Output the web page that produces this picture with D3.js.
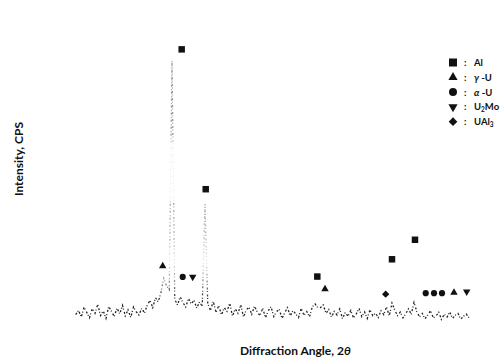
<!DOCTYPE html>
<html>
<head>
<meta charset="utf-8">
<script src="https://cdn.jsdelivr.net/npm/d3@7"></script>
<style>
  body { margin: 0; background: #fff; }
  svg { display: block; }
  .label { font-family: Lato, "Open Sans", sans-serif; font-weight: bold; font-size: 12px; fill: #111; }
  .legend text { font-family: Lato, "Open Sans", sans-serif; font-weight: bold; font-size: 9.5px; fill: #111; }
</style>
</head>
<body>
<svg id="chart" width="502" height="363"></svg>
<script>
// scan: 2-theta grid start/step, counts
const scanStart = 16.5;
const scanStep = 0.5;
const cps = [
  48, 62, 40, 71, 55, 38, 66, 52, 80, 45, 60, 36, 74, 58, 42, 69, 50, 77, 44, 63, 39, 72, 57, 47, 68, 53,
  78, 92, 70, 101, 88,
  118, 162, 138, 126,
  841,
  96, 78, 104, 85, 72, 99, 81, 93, 68, 88, 74,
  394,
  82, 61, 90, 55, 76, 47, 70, 58, 84, 43, 66, 52, 79, 40, 63, 71, 49, 75, 56, 45,
  68, 38, 60, 73, 42, 57, 65, 36, 54, 70, 44, 61, 50, 39, 67, 46, 58, 41, 72,
  82, 70,
  70, 78, 52, 64, 40, 58, 47, 66, 35, 55, 43, 61, 38, 50, 68, 42, 57, 36, 63, 45, 53, 39, 60, 48, 72, 44,
  84,
  62, 45, 56, 38, 51, 66, 49,
  86,
  58, 41, 52, 35, 47, 60, 38, 44, 55, 33, 49, 40, 57, 36, 46, 52, 34, 43, 50, 38
];

// phase markers
const phases = ['Al', 'gU', 'aU', 'U2Mo', 'UAl3'];
const markerPhase = ['Al', 'Al', 'Al', 'Al', 'Al',
  'gU', 'gU', 'gU',
  'aU', 'aU', 'aU', 'aU',
  'U2Mo', 'U2Mo',
  'UAl3'];
const markerAngle = [35.76, 40.13, 60.42, 74.0, 78.18,
  32.31, 61.82, 85.27,
  35.95, 80.13, 81.64, 83.09,
  37.76, 87.58,
  72.85];
const markerCps = [877, 440, 167, 221, 282,
  200, 128, 117,
  166, 115, 115, 115,
  166, 120,
  112];

const svg = d3.select('#chart');
const x = d3.scaleLinear().domain([10, 90]).range([40, 480]);
const y = d3.scaleLinear().domain([0, 1000]).range([330, 10]);

const shapes = {
  Al: {type: d3.symbolSquare, size: 42, big: 64, rot: 0},
  gU: {type: d3.symbolTriangle, size: 24, big: 36, rot: 0},
  aU: {type: d3.symbolCircle, size: 30, big: 50, rot: 0},
  U2Mo: {type: d3.symbolTriangle, size: 24, big: 36, rot: 180},
  UAl3: {type: d3.symbolDiamond2, size: 34, big: 48, rot: 0}
};

// faded scan: ink is light on the tall peak flanks, dark on the baseline
const grad = svg.append('defs').append('linearGradient')
  .attr('id', 'ink')
  .attr('gradientUnits', 'userSpaceOnUse')
  .attr('x1', 0).attr('x2', 0)
  .attr('y1', 0).attr('y2', 363);
[[0, '#999'], [0.37, '#999'], [0.4, '#f2f2f2'], [0.55, '#f2f2f2'], [0.56, '#aaa'], [0.66, '#bbb'],
 [0.72, '#eee'], [0.78, '#888'], [0.83, '#222'], [1, '#222']]
  .forEach(s => grad.append('stop').attr('offset', s[0]).attr('stop-color', s[1]));

const line = d3.line()
  .x((d, i) => x(scanStart + i * scanStep))
  .y(d => y(d));

svg.append('path')
  .datum(cps)
  .attr('d', line)
  .attr('fill', 'none')
  .attr('stroke', 'url(#ink)')
  .attr('stroke-width', 1.3)
  .attr('stroke-dasharray', '2,1.6,1,2.4');

// markers
svg.append('g').selectAll('path')
  .data(markerAngle)
  .enter().append('path')
  .attr('transform', (d, i) => {
    const s = shapes[markerPhase[i]];
    return 'translate(' + x(d) + ',' + y(markerCps[i]) + ') rotate(' + s.rot + ')';
  })
  .attr('d', (d, i) => d3.symbol().type(shapes[markerPhase[i]].type).size(shapes[markerPhase[i]].size)())
  .attr('fill', '#111');

// legend
const legend = svg.append('g').attr('class', 'legend');
const rows = legend.selectAll('g')
  .data(phases)
  .enter().append('g')
  .attr('transform', (d, i) => 'translate(453,' + (62.5 + i * 14.8) + ')');

rows.append('path')
  .attr('transform', d => 'rotate(' + shapes[d].rot + ')')
  .attr('d', d => d3.symbol().type(shapes[d].type).size(shapes[d].big)())
  .attr('fill', '#111');

rows.append('text')
  .attr('x', 11)
  .attr('y', 3.5)
  .text(':');

const lbl = rows.append('text')
  .attr('x', 21)
  .attr('y', 3.5);

lbl.each(function(d) {
  const t = d3.select(this);
  if (d === 'Al') t.text('Al');
  if (d === 'gU') { t.append('tspan').attr('font-style', 'italic').text('γ'); t.append('tspan').text(' -U'); }
  if (d === 'aU') { t.append('tspan').attr('font-style', 'italic').text('α'); t.append('tspan').text(' -U'); }
  if (d === 'U2Mo') {
    t.append('tspan').text('U');
    t.append('tspan').attr('font-size', '6.5px').attr('dy', 2).text('2');
    t.append('tspan').attr('dy', -2).text('Mo');
  }
  if (d === 'UAl3') {
    t.append('tspan').text('UAl');
    t.append('tspan').attr('font-size', '6.5px').attr('dy', 2).text('3');
  }
});

// axis titles
svg.append('text')
  .attr('class', 'label')
  .attr('transform', 'translate(23,159) rotate(-90)')
  .attr('text-anchor', 'middle')
  .text('Intensity, CPS');

const xt = svg.append('text')
  .attr('class', 'label')
  .attr('x', 240)
  .attr('y', 355);
xt.append('tspan').text('Diffraction Angle, 2');
xt.append('tspan').attr('font-style', 'italic').text('θ');
</script>
</body>
</html>
